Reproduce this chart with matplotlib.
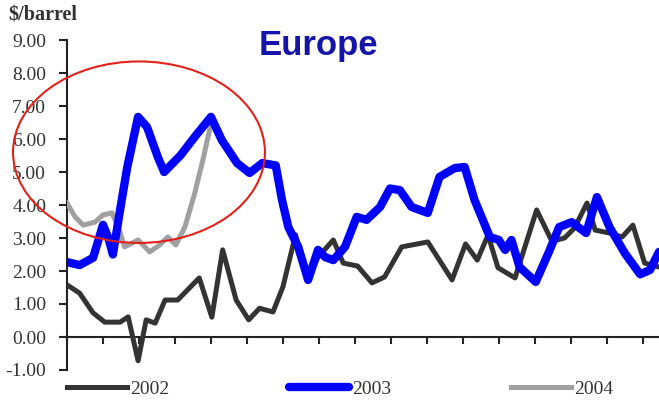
import matplotlib
matplotlib.use("Agg")
import matplotlib.pyplot as plt
from matplotlib.patches import Ellipse

# Weekly margin series ($/barrel); x is the week index
weeks_2002 = [0, 1.4, 2.9, 4.2, 5.9, 6.8, 7.9, 8.8, 9.8, 10.9, 12.3, 14.7, 16.1, 17.3,
              18.8, 20.2, 21.4, 22.9, 24.0, 25.4, 26.7, 27.9, 29.6, 30.7, 32.3, 33.9,
              35.3, 37.2, 40.1, 42.8, 44.3, 45.6, 46.8, 47.9, 49.8, 52.2, 53.9, 55.3,
              56.4, 57.8, 58.7, 60.3, 61.7, 62.9, 64.2, 65.8]
vals_2002 = [1.58, 1.33, 0.73, 0.45, 0.45, 0.61, -0.72, 0.52, 0.42, 1.12, 1.12, 1.79, 0.60, 2.64,
             1.12, 0.52, 0.87, 0.76, 1.52, 3.10, 1.70, 2.42, 2.94, 2.24, 2.15, 1.64,
             1.82, 2.73, 2.88, 1.73, 2.82, 2.33, 3.09, 2.10, 1.79, 3.85, 2.90, 3.00,
             3.30, 4.06, 3.24, 3.15, 3.03, 3.39, 2.24, 2.12]

weeks_2003 = [0, 1.4, 2.9, 4.0, 4.6, 5.1, 5.9, 6.7, 7.9, 8.9, 10.1, 10.8, 12.6, 14.3,
              16.0, 17.2, 18.9, 20.3, 21.7, 23.2, 23.9, 24.6, 25.7, 26.8, 27.9, 28.7,
              29.6, 30.9, 32.2, 33.3, 34.8, 35.9, 37.0, 38.3, 40.1, 41.4, 43.1, 44.2,
              45.3, 47.0, 48.0, 48.7, 49.4, 50.3, 52.1, 53.6, 54.7, 56.1, 57.7, 58.9,
              60.3, 62.0, 63.7, 64.8, 65.8]
vals_2003 = [2.27, 2.18, 2.40, 3.40, 3.00, 2.50, 3.85, 5.15, 6.67, 6.36, 5.45, 5.00, 5.50, 6.10,
             6.67, 5.97, 5.27, 4.97, 5.27, 5.20, 4.15, 3.33, 2.73, 1.73, 2.64, 2.42,
             2.33, 2.73, 3.64, 3.55, 3.94, 4.50, 4.45, 3.94, 3.76, 4.85, 5.12, 5.15,
             4.15, 3.03, 2.94, 2.64, 2.94, 2.12, 1.67, 2.60, 3.33, 3.48, 3.15, 4.24,
             3.33, 2.54, 1.90, 2.03, 2.58]

weeks_2004 = [0, 0.9, 1.8, 3.1, 4.0, 5.0, 5.7, 6.4, 7.9, 9.2, 10.3, 11.2, 12.1, 13.1,
              14.2, 15.1, 16.1]
vals_2004 = [4.06, 3.64, 3.39, 3.48, 3.70, 3.76, 3.33, 2.73, 2.94, 2.58, 2.79, 3.03, 2.79, 3.33,
             4.36, 5.36, 6.58]

series_labels = ["2002", "2003", "2004"]
y_ticks = [-1, 0, 1, 2, 3, 4, 5, 6, 7, 8, 9]
x_ticks = list(range(0, 68, 4))

serif = ["Liberation Serif", "DejaVu Serif"]
text_color = "#333333"

fig = plt.figure(figsize=(6.59, 4.0), dpi=100)
ax = fig.add_axes([67 / 659, 30 / 400, 592 / 659, 330 / 400])

l02, = ax.plot(weeks_2002, vals_2002, color="#333333", lw=3.6,
               solid_joinstyle="round", label=series_labels[0], zorder=3)
l04, = ax.plot(weeks_2004, vals_2004, color="#A0A0A0", lw=3.6,
               solid_joinstyle="round", label=series_labels[2], zorder=3)
l03, = ax.plot(weeks_2003, vals_2003, color="#0000FF", lw=6.0,
               solid_joinstyle="round", solid_capstyle="round",
               label=series_labels[1], zorder=4)

ax.set_xlim(0, 65.8)
ax.set_ylim(-1, 9)

# Axes: left spine with outward ticks, horizontal axis sitting at zero
for side in ("top", "right"):
    ax.spines[side].set_visible(False)
ax.spines["left"].set_linewidth(1.5)
ax.spines["left"].set_color("#222222")
ax.spines["bottom"].set_position(("data", 0))
ax.spines["bottom"].set_linewidth(1.5)
ax.spines["bottom"].set_color("#222222")

ax.set_yticks(y_ticks)
ax.set_yticklabels([f"{v:.2f}" for v in y_ticks], fontfamily=serif,
                   fontsize=14, color=text_color)
ax.tick_params(axis="y", direction="out", length=6, width=1.5, pad=9, color="#222222")
ax.set_xticks(x_ticks)
ax.set_xticklabels([])
ax.tick_params(axis="x", direction="out", length=5, width=1.5, color="#222222")

# Highlight ring around the early-2003 / 2004 spike
ring = Ellipse((8.0, 5.6), width=28, height=5.5, fill=False,
               edgecolor="#E3211B", lw=1.5, zorder=6, clip_on=False)
ax.add_patch(ring)

fig.text(8 / 659, 1 - 15 / 400, "\\$/barrel", fontfamily=serif, fontsize=14.5,
         fontweight="bold", color=text_color, ha="left", va="center")
fig.text(318 / 659, 1 - 46 / 400, "Europe", fontfamily=["Liberation Sans", "DejaVu Sans"],
         fontsize=25, fontweight="bold", color="#1414A8", ha="center", va="center")

fig.legend(handles=[l02, l03, l04], labels=series_labels, loc="center left",
           bbox_to_anchor=(67 / 659, 1 - 389 / 400), ncol=3, frameon=False,
           borderpad=0, borderaxespad=0, handlelength=3.1, handletextpad=0.15,
           columnspacing=6.15, prop={"family": serif, "size": 14},
           labelcolor=text_color)

fig.savefig("out.png", dpi=100, facecolor="white")
